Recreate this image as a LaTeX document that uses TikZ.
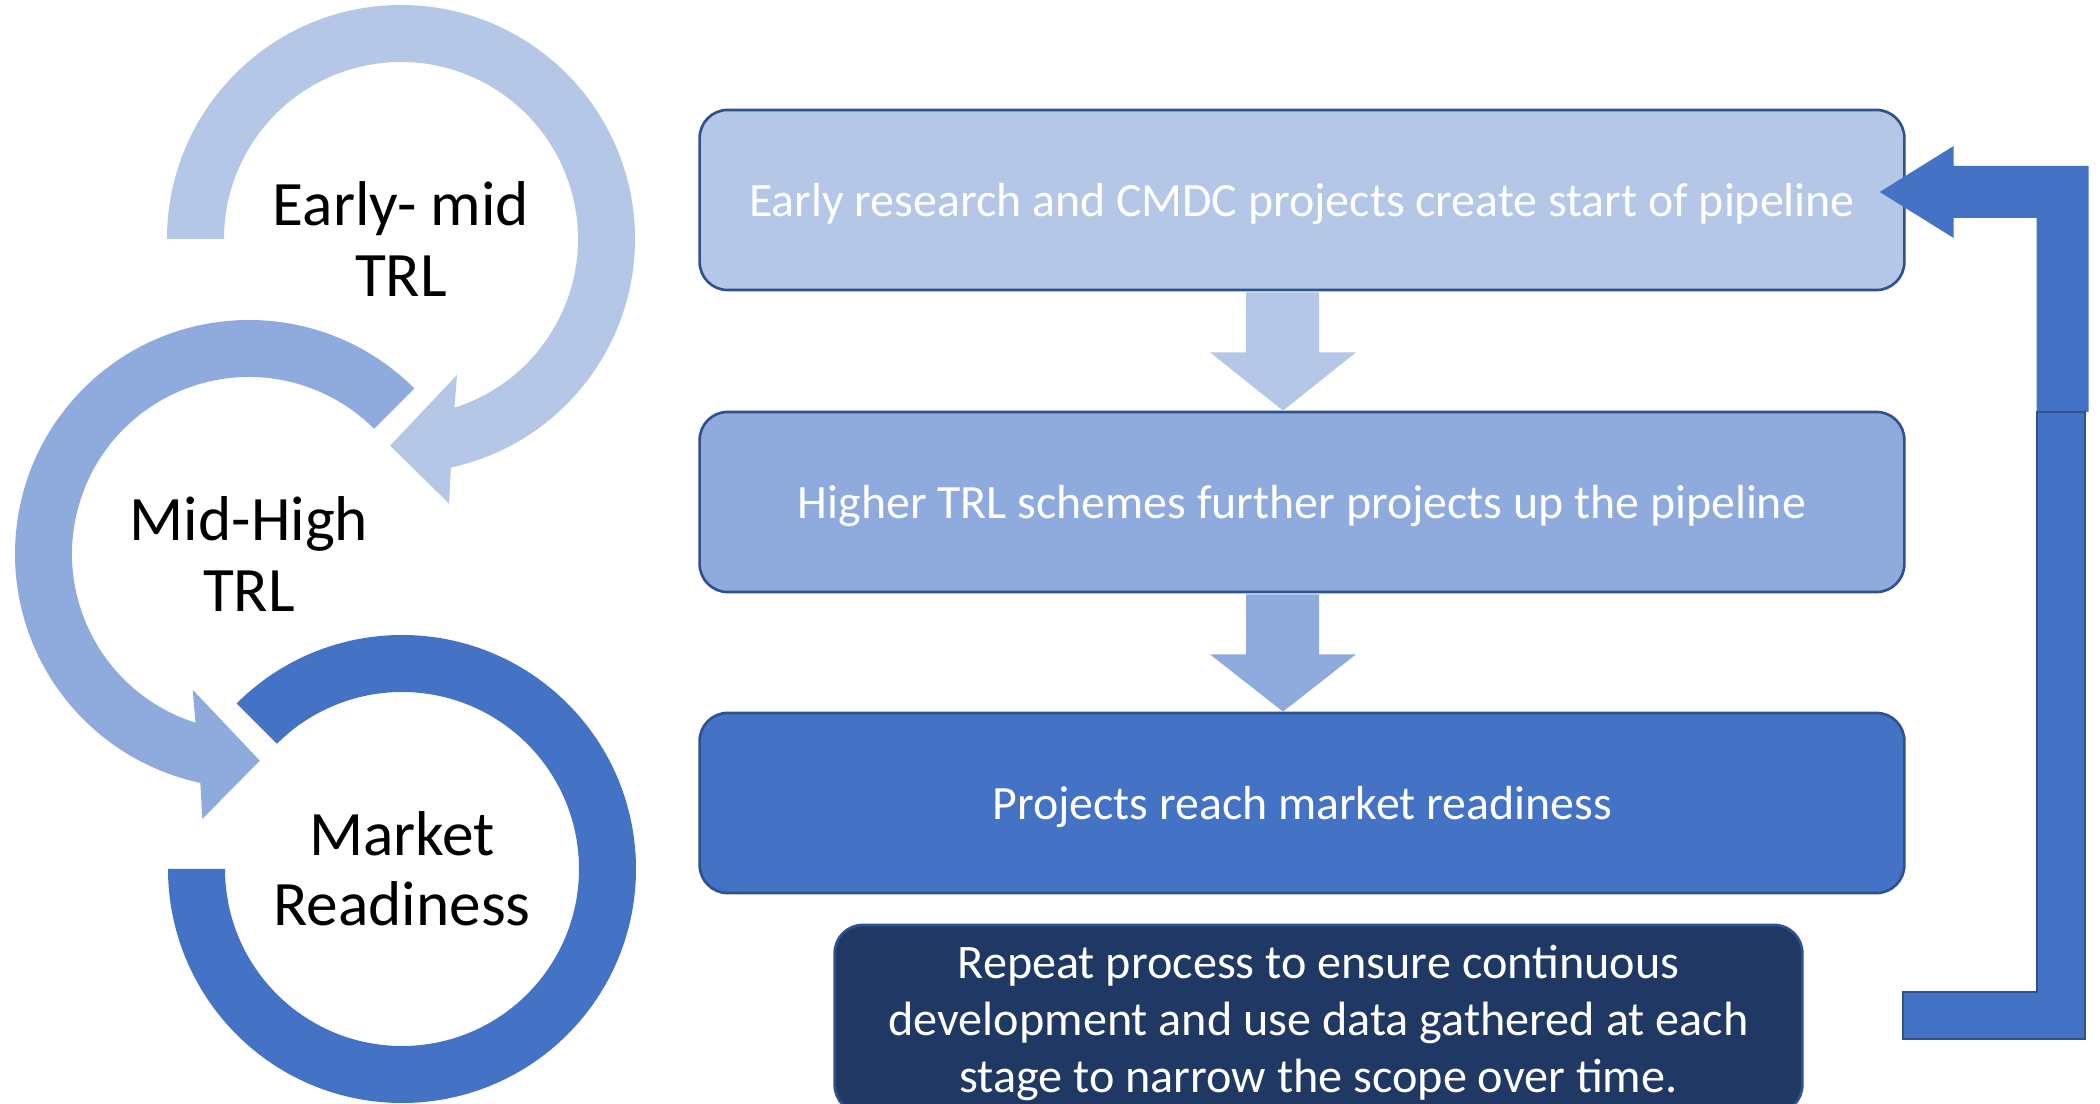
\documentclass[tikz,border=0pt]{standalone}
\usepackage{fontspec}
\setmainfont{Carlito}
\usetikzlibrary{calc}
\definecolor{trlA}{HTML}{B4C7E7}
\definecolor{trlB}{HTML}{8FAADC}
\definecolor{trlC}{HTML}{4472C4}
\definecolor{navy}{HTML}{203864}
\definecolor{edge}{HTML}{2F528F}
\begin{document}
\begin{tikzpicture}[x=0.01cm,y=0.01cm,
  stage/.style={draw=edge,line width=0.75pt,rounded corners=0.28cm,minimum width=12.04cm,minimum height=1.8cm,text depth=0pt,text=white,font=\fontsize{13.6}{16}\selectfont},
  ring/.style={font=\fontsize{18}{20}\selectfont,align=center}]
\clip (0,0) rectangle (2100,1103);
\coordinate (c1) at (401,864);
\coordinate (c2) at (249,549);
\coordinate (c3) at (402,234);
% circular arrows on the left
\fill[trlA] ($(c1)+(180:234)$) arc[start angle=180,end angle=-77.7,radius=234]
  -- ($(c1)+(-79.7:269)$) -- ($(c1)+(-93:207)$) -- ($(c1)+(-67.6:147)$)
  -- ($(c1)+(-72.4:177)$) arc[start angle=-72.4,end angle=180,radius=177] -- cycle;
\fill[trlB] ($(c2)+(45:234)$) arc[start angle=45,end angle=258,radius=234]
  -- ($(c2)+(260:269)$) -- ($(c2)+(273:207)$) -- ($(c2)+(247.5:147)$)
  -- ($(c2)+(252.4:177)$) arc[start angle=252.4,end angle=45,radius=177] -- cycle;
\fill[trlC] ($(c3)+(135:234)$) arc[start angle=135,end angle=-180,radius=234]
  -- ($(c3)+(-180:177)$) arc[start angle=-180,end angle=135,radius=177] -- cycle;
\node[ring] (early) at (c1) {Early- mid\\TRL};
\node[ring] (midhigh) at (c2) {Mid-High\\TRL};
\node[ring] (market) at (c3) {Market\\Readiness};
% pipeline boxes
\node[stage,fill=trlA] (box1) at (1302,903) {Early research and CMDC projects create start of pipeline};
\node[stage,fill=trlB] (box2) at (1302,601) {Higher TRL schemes further projects up the pipeline};
\node[stage,fill=trlC] (box3) at (1302,300) {Projects reach market readiness};
\node[stage,fill=navy,minimum width=9.67cm,minimum height=1.88cm,align=center,font=\fontsize{13.7}{16.2}\selectfont] (again) at (1318.5,84)
  {Repeat process to ensure continuous\\development and use data gathered at each\\stage to narrow the scope over time.};
% down arrows
\fill[trlA] ($(box1.south)+(-56,-1)$) -- ($(box1.south)+(17,-1)$) -- ($(box1.south)+(17,-61)$) -- ($(box1.south)+(54,-61)$)
  -- ($(box2.north)+(-19,0)$) -- ($(box1.south)+(-92,-61)$) -- ($(box1.south)+(-56,-61)$) -- cycle;
\fill[trlB] ($(box2.south)+(-56,-1)$) -- ($(box2.south)+(17,-1)$) -- ($(box2.south)+(17,-61)$) -- ($(box2.south)+(54,-61)$)
  -- ($(box3.north)+(-19,0)$) -- ($(box2.south)+(-92,-61)$) -- ($(box2.south)+(-56,-61)$) -- cycle;
% return arrow
\coordinate (tip) at ($(box1.east)+(-26,8)$);
\fill[trlC] (tip) -- ++(74,46) -- ++(0,-20) -- ++(135,0) -- ++(0,-246) -- ++(-52,0) -- ++(0,194) -- ++(-83,0) -- ++(0,-20) -- cycle;
\draw[fill=trlC,draw=edge,line width=0.75pt] (2085,691) -- ++(0,-627) -- ++(-182,0) -- ++(0,47) -- ++(134,0) -- ++(0,580) -- cycle;
\end{tikzpicture}
\end{document}
